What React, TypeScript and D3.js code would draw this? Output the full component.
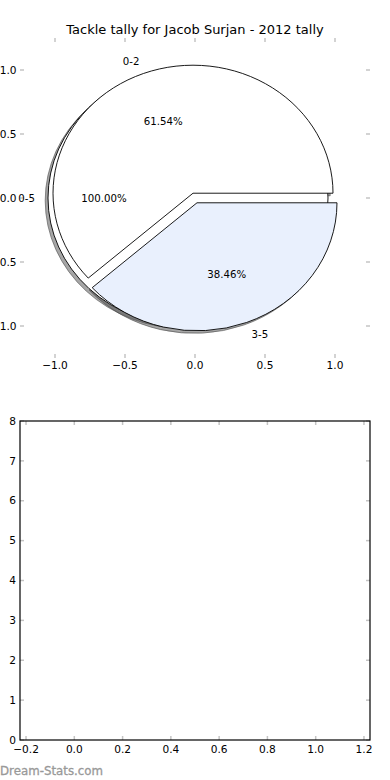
import * as d3 from 'd3';

const W = 390;
const H = 780;

const title = 'Tackle tally for Jacob Surjan - 2012 tally';
const watermark = 'Dream-Stats.com';

// whole tally, drawn first as one wedge
const totalLabels = ['0-5'];
const totalValues = [13];
const totalExplode = [0.05];
const totalColors = ['#ffffff'];

// split of the tally, drawn on top
const splitLabels = ['0-2', '3-5'];
const splitValues = [8, 5];
const splitExplode = [0.04, 0.04];
const splitColors = ['#ffffff', '#e9f0fd'];

const pieTicks = [-1, -0.5, 0, 0.5, 1];
const barXTicks = [-0.2, 0, 0.2, 0.4, 0.6, 0.8, 1.0, 1.2];
const barYTicks = [0, 1, 2, 3, 4, 5, 6, 7, 8];

const FONT = 'DejaVu Sans, sans-serif';
const TICK = '#c4c4c4';
const FS = 10.6;
const PIE_FS = 10.2;

const pieX = d3.scaleLinear().domain([-1.25, 1.25]).range([20, 370]);
const pieY = d3.scaleLinear().domain([-1.25, 1.25]).range([358, 38]);
const barX = d3.scaleLinear().domain([-0.225, 1.225]).range([20, 370]);
const barY = d3.scaleLinear().domain([0, 8]).range([740, 421]);

const fmt1 = d3.format('.1f');
const pct = d3.format('.2f');

interface Wedge {
  label: string;
  value: number;
  a0: number;
  a1: number;
  cx: number;
  cy: number;
  color: string;
  frac: number;
}

// matplotlib style: angles counter-clockwise from east, exploded along mid angle
function buildWedges(labels: string[], values: number[], explode: number[], colors: string[]): Wedge[] {
  const total = d3.sum(values);
  const arcs = d3.pie<number>().sort(null).startAngle(0).endAngle(2 * Math.PI)(values);
  return arcs.map((a, i) => {
    const mid = (a.startAngle + a.endAngle) / 2;
    return {
      label: labels[i],
      value: values[i],
      a0: a.startAngle,
      a1: a.endAngle,
      cx: explode[i] * Math.cos(mid),
      cy: explode[i] * Math.sin(mid),
      color: colors[i],
      frac: values[i] / total,
    };
  });
}

const rx = pieX(1) - pieX(0);
const ry = pieY(0) - pieY(1);

function wedgePath(w: Wedge, dx = 0, dy = 0) {
  const cx = w.cx + dx;
  const cy = w.cy + dy;
  if (w.a1 - w.a0 >= 2 * Math.PI - 1e-6) {
    const x0 = pieX(cx + 1), x1 = pieX(cx - 1), y = pieY(cy);
    return `M${x0},${y}A${rx},${ry} 0 1 0 ${x1},${y}A${rx},${ry} 0 1 0 ${x0},${y}Z`;
  }
  const large = w.a1 - w.a0 > Math.PI ? 1 : 0;
  return (
    `M${pieX(cx)},${pieY(cy)}` +
    `L${pieX(cx + Math.cos(w.a0))},${pieY(cy + Math.sin(w.a0))}` +
    `A${rx},${ry} 0 ${large} 0 ${pieX(cx + Math.cos(w.a1))},${pieY(cy + Math.sin(w.a1))}Z`
  );
}

export default function App() {
  const wedges = [
    ...buildWedges(totalLabels, totalValues, totalExplode, totalColors),
    ...buildWedges(splitLabels, splitValues, splitExplode, splitColors),
  ];

  return (
    <svg
      width={W}
      height={H}
      style={{ position: 'absolute', left: 0, top: 0, background: '#fff' }}
      fontFamily={FONT}
    >
      <rect width={W} height={H} fill="#fff" />
      <text x={195} y={34} textAnchor="middle" fontSize={13} fill="#000">
        {title}
      </text>

      {/* pie axes: no frame, ticks only */}
      {pieTicks.map((t) => (
        <g key={'px' + t}>
          <line x1={pieX(t)} x2={pieX(t)} y1={38} y2={42} stroke={TICK} strokeWidth={1.5} />
          <line x1={pieX(t)} x2={pieX(t)} y1={354} y2={358} stroke={TICK} strokeWidth={1.5} />
          <text x={pieX(t)} y={369} textAnchor="middle" fontSize={FS}>{fmt1(t)}</text>
        </g>
      ))}
      {pieTicks.map((t) => (
        <g key={'py' + t}>
          <line x1={20} x2={24} y1={pieY(t)} y2={pieY(t)} stroke={TICK} strokeWidth={1.5} />
          <line x1={366} x2={370} y1={pieY(t)} y2={pieY(t)} stroke={TICK} strokeWidth={1.5} />
          <text x={16.6} y={pieY(t)} dy="0.35em" textAnchor="end" fontSize={FS}>{fmt1(t)}</text>
        </g>
      ))}

      {/* shadows sit under every wedge */}
      {wedges.map((w, i) => (
        <path
          key={'s' + i}
          d={wedgePath(w, -0.02, -0.02)}
          fill="#4d4d4d"
          fillOpacity={0.5}
          stroke="#4d4d4d"
          strokeOpacity={0.6}
          strokeWidth={1}
        />
      ))}
      {wedges.map((w, i) => (
        <path key={'w' + i} d={wedgePath(w)} fill={w.color} stroke="#000" strokeWidth={0.9} strokeLinejoin="miter" />
      ))}
      {wedges.map((w, i) => {
        const mid = (w.a0 + w.a1) / 2;
        const lx = w.cx + 1.1 * Math.cos(mid);
        const ly = w.cy + 1.1 * Math.sin(mid);
        const px = w.cx + 0.6 * Math.cos(mid);
        const py = w.cy + 0.6 * Math.sin(mid);
        return (
          <g key={'l' + i} fontSize={PIE_FS}>
            <text x={pieX(lx) + (lx > 0 ? 0 : 1)} y={pieY(ly)} dy="0.35em" textAnchor={lx > 0 ? 'start' : 'end'}>
              {w.label}
            </text>
            <text x={pieX(px)} y={pieY(py)} dy="0.35em" textAnchor="middle">
              {pct(w.frac * 100) + '%'}
            </text>
          </g>
        );
      })}

      {/* empty lower axes */}
      {barXTicks.map((t) => (
        <g key={'bx' + t}>
          <line x1={barX(t)} x2={barX(t)} y1={421} y2={425} stroke={TICK} strokeWidth={1.5} />
          <line x1={barX(t)} x2={barX(t)} y1={736} y2={740} stroke={TICK} strokeWidth={1.5} />
          <text x={barX(t)} y={753} textAnchor="middle" fontSize={FS}>{fmt1(t)}</text>
        </g>
      ))}
      {barYTicks.map((t) => (
        <g key={'by' + t}>
          <line x1={20} x2={24} y1={barY(t)} y2={barY(t)} stroke={TICK} strokeWidth={1.5} />
          <line x1={366} x2={370} y1={barY(t)} y2={barY(t)} stroke={TICK} strokeWidth={1.5} />
          <text x={16} y={barY(t)} dy="0.35em" textAnchor="end" fontSize={FS}>{t}</text>
        </g>
      ))}
      <rect x={20} y={421} width={350} height={319} fill="none" stroke="#000" strokeWidth={1.2} />

      <text x={0} y={775} fontSize={11.8} fill="#999" stroke="#999" strokeWidth={0.3}>{watermark}</text>
    </svg>
  );
}
